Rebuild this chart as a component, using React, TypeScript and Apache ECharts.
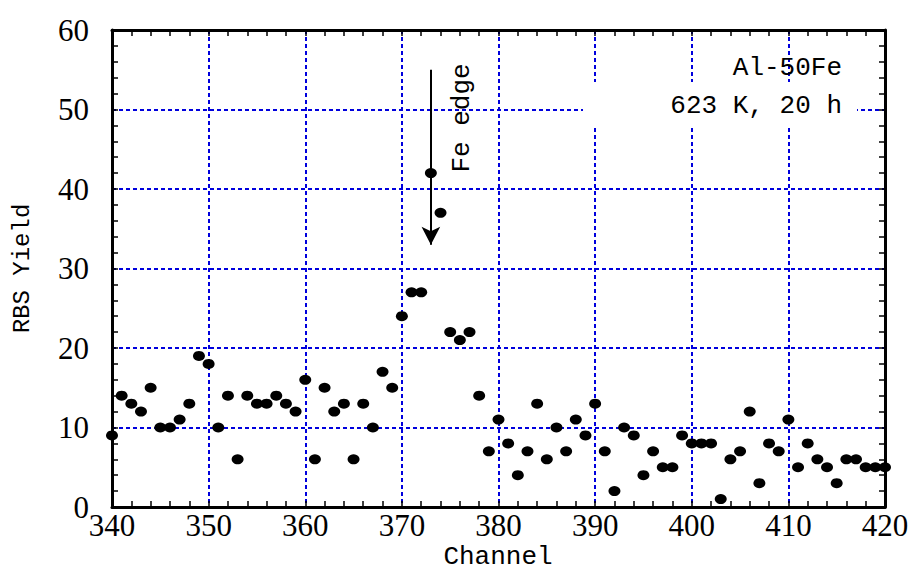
import React, { useEffect, useRef } from "react";
import * as echarts from "echarts";

const channels = [
  340, 341, 342, 343, 344, 345, 346, 347, 348, 349,
  350, 351, 352, 353, 354, 355, 356, 357, 358, 359,
  360, 361, 362, 363, 364, 365, 366, 367, 368, 369,
  370, 371, 372, 373, 374, 375, 376, 377, 378, 379,
  380, 381, 382, 383, 384, 385, 386, 387, 388, 389,
  390, 391, 392, 393, 394, 395, 396, 397, 398, 399,
  400, 401, 402, 403, 404, 405, 406, 407, 408, 409,
  410, 411, 412, 413, 414, 415, 416, 417, 418, 419,
  420,
];
const yields = [
  9, 14, 13, 12, 15, 10, 10, 11, 13, 19,
  18, 10, 14, 6, 14, 13, 13, 14, 13, 12,
  16, 6, 15, 12, 13, 6, 13, 10, 17, 15,
  24, 27, 27, 42, 37, 22, 21, 22, 14, 7,
  11, 8, 4, 7, 13, 6, 10, 7, 11, 9,
  13, 7, 2, 10, 9, 4, 7, 5, 5, 9,
  8, 8, 8, 1, 6, 7, 12, 3, 8, 7,
  11, 5, 8, 6, 5, 3, 6, 6, 5, 5,
  5,
];
const xRange = [340, 420];
const yRange = [0, 60];
const arrowStart = [373, 55];
const arrowEnd = [373, 33];
const xTitle = "Channel";
const yTitle = "RBS Yield";
const edgeLabel = "Fe edge";
const sampleLabel = "Al-50Fe";
const conditionLabel = "623 K, 20 h";

const SERIF = '"Liberation Serif", serif';
const MONO = '"Liberation Mono", monospace';

export default function App() {
  const ref = useRef<HTMLDivElement>(null);
  useEffect(() => {
    if (!ref.current) return;
    const chart = echarts.init(ref.current, null, { renderer: "svg" });
    const axisLine = { show: true, onZero: false, lineStyle: { color: "#000", width: 3 } };
    const tick = { show: true, inside: true, length: 6, lineStyle: { color: "#000", width: 1.5 } };
    const minor = { show: true, splitNumber: 5, length: 6, lineStyle: { color: "#000", width: 1.5 } };
    const grid = { show: true, lineStyle: { color: "#0000dd", width: 2, type: [4, 3] as any } };
    chart.setOption({
      animation: false,
      backgroundColor: "#fff",
      grid: { left: 112, right: 24, top: 30, bottom: 65, containLabel: false, outerBoundsMode: "none" },
      xAxis: [
        {
          type: "value", min: xRange[0], max: xRange[1], interval: 10,
          axisLine, axisTick: tick, minorTick: minor, splitLine: grid,
          axisLabel: { fontFamily: SERIF, fontSize: 31, lineHeight: 28, color: "#000", margin: 4 },
        },
        {
          type: "value", position: "top", min: xRange[0], max: xRange[1], interval: 10,
          axisLine, axisTick: tick, minorTick: minor, splitLine: { show: false },
          axisLabel: { show: false },
        },
      ],
      yAxis: [
        {
          type: "value", min: yRange[0], max: yRange[1], interval: 10,
          axisLine, axisTick: tick, minorTick: minor, splitLine: grid,
          axisLabel: { fontFamily: SERIF, fontSize: 31, color: "#000", margin: 23 },
          name: yTitle, nameLocation: "middle", nameGap: 78,
          nameTextStyle: { fontFamily: MONO, fontSize: 24, color: "#000" },
        },
        {
          type: "value", position: "right", min: yRange[0], max: yRange[1], interval: 10,
          axisLine, axisTick: tick, minorTick: minor, splitLine: { show: false },
          axisLabel: { show: false },
        },
      ],
      series: [
        {
          type: "scatter",
          data: channels.map((c, i) => [c, yields[i]]),
          symbol: "circle",
          symbolSize: [12, 10],
          itemStyle: { color: "#000", opacity: 1 },
          z: 5,
          markLine: {
            silent: true,
            symbol: ["none", "arrow"],
            symbolSize: [14, 18],
            label: { show: false },
            lineStyle: { color: "#000", width: 2, type: "solid", opacity: 1 },
            data: [[{ coord: arrowStart }, { coord: arrowEnd }]],
          },
        },
      ],
      graphic: [
        { type: "rect", z: 100, shape: { x: 583, y: 82, width: 274, height: 46 }, style: { fill: "#fff" } },
        {
          type: "text", z: 101, x: 842, y: 68,
          style: { text: sampleLabel, fontFamily: MONO, fontSize: 26, fill: "#000", align: "right", verticalAlign: "middle" },
        },
        {
          type: "text", z: 101, x: 842, y: 106,
          style: { text: conditionLabel, fontFamily: MONO, fontSize: 26, fill: "#000", align: "right", verticalAlign: "middle" },
        },
        {
          type: "text", z: 101, x: 462, y: 118, rotation: Math.PI / 2,
          style: { text: edgeLabel, fontFamily: MONO, fontSize: 26, fill: "#000", align: "center", verticalAlign: "middle" },
        },
        {
          type: "text", z: 101, x: 498, y: 557,
          style: { text: xTitle, fontFamily: MONO, fontSize: 26, lineHeight: 24, fill: "#000", align: "center", verticalAlign: "middle" },
        },
      ],
    });
    return () => chart.dispose();
  }, []);
  return <div ref={ref} style={{ position: "absolute", left: 0, top: 0, width: 909, height: 572 }} />;
}
